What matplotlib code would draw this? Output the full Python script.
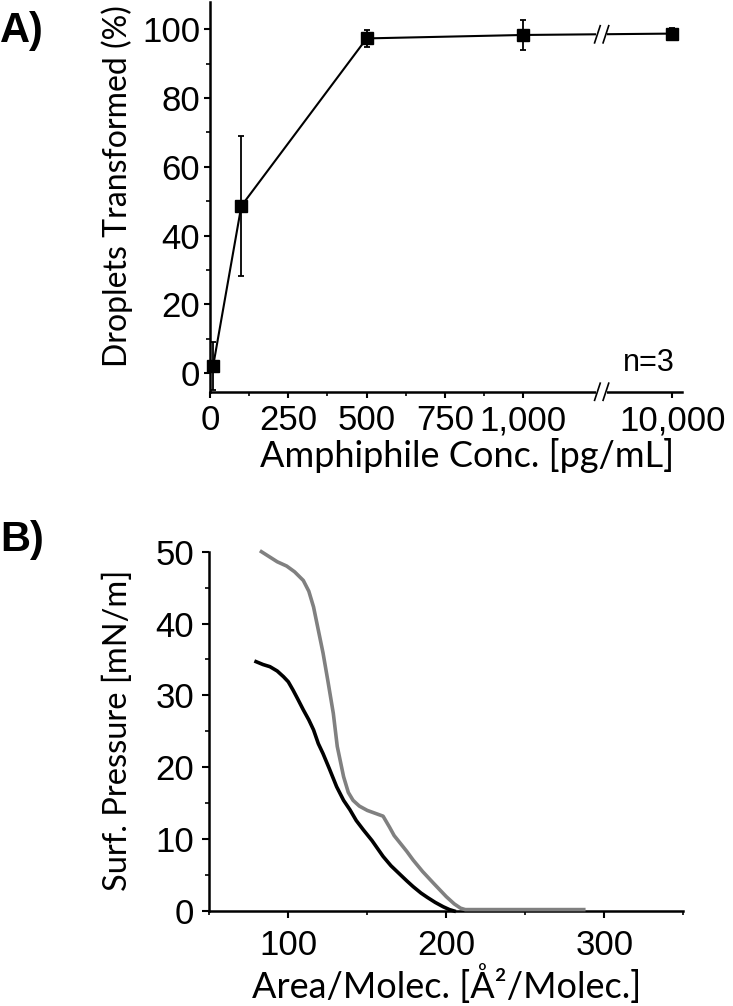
import numpy as np
import matplotlib
matplotlib.use("Agg")
import matplotlib.pyplot as plt
from matplotlib import transforms
from matplotlib.ticker import FixedLocator, MultipleLocator

# panel A: droplet transformation vs amphiphile concentration
conc = [10, 100, 500, 1000, 10000]
transformed = [2.0, 48.6, 97.4, 98.4, 98.8]
transformed_err = [7.0, 20.5, 2.4, 4.5, 1.5]
conc_ticks = [0, 250, 500, 750, 1000, 10000]
conc_ticklabels = ["0", "250", "500", "750", "1,000", "10,000"]

# panel B: isotherms
area_gray = [83, 88, 93, 99, 104, 109.5, 113, 116, 119, 122, 125, 128.5, 131, 135, 138,
             141, 145, 150, 155, 160, 164, 167, 171, 175, 179, 185, 192, 200, 205, 209,
             212, 287]
press_gray = [50.0, 49.3, 48.6, 48.0, 47.2, 46.0, 44.5, 42.3, 39.1, 35.9, 32.1, 27.5, 22.9,
              18.7, 16.5, 15.4, 14.6, 14.0, 13.6, 13.2, 11.7, 10.5, 9.4, 8.3, 7.1, 5.5,
              3.85, 2.0, 1.0, 0.4, 0.2, 0.2]
area_black = [79.6, 84, 88.4, 93, 97, 100, 103, 106, 109.5, 113, 116, 119, 122, 126, 130.6,
              135, 139, 143, 147.5, 153, 160, 165, 170.7, 175, 179, 184, 188, 193, 198,
              202, 205]
press_black = [34.7, 34.3, 34.0, 33.4, 32.6, 31.9, 30.75, 29.5, 28.0, 26.6, 25.2, 23.3,
               21.9, 19.8, 17.3, 15.4, 14.1, 12.6, 11.3, 9.8, 7.6, 6.3, 5.1, 4.2, 3.4,
               2.5, 1.9, 1.2, 0.6, 0.2, 0.0]

num_font = "Liberation Sans"
lab_font = "Lato"
BRK = 1250.0
SQ = 225.0 / 8750.0


def fwd(x):
    x = np.asarray(x, dtype=float)
    return np.where(x <= BRK, x, BRK + (x - BRK) * SQ)


def inv(y):
    y = np.asarray(y, dtype=float)
    return np.where(y <= BRK, y, BRK + (y - BRK) / SQ)


fig = plt.figure(figsize=(7.33, 10.06), dpi=100)
axA = fig.add_axes([0.2865, 0.6106, 0.644, 0.3874])
axB = fig.add_axes([0.2855, 0.0944, 0.6467, 0.3572])

for ax in (axA, axB):
    for s in ("top", "right"):
        ax.spines[s].set_visible(False)
    for s in ("left", "bottom"):
        ax.spines[s].set_linewidth(1.8)
    ax.tick_params(which="major", direction="out", length=4, width=1.5, labelsize=25, pad=3)
    ax.tick_params(which="minor", direction="out", length=3, width=1.2)

# ---- A ----
axA.set_xscale("function", functions=(fwd, inv))
axA.errorbar(conc, transformed, yerr=transformed_err, color="black", lw=1.5,
             marker="s", ms=8, capsize=2, elinewidth=1.3, capthick=1.3, clip_on=False, zorder=3)
axA.set_xlim(0, 11230)
axA.set_ylim(-5.5, 108)
axA.xaxis.set_major_locator(FixedLocator(conc_ticks))
axA.set_xticklabels(conc_ticklabels)
axA.xaxis.set_minor_locator(FixedLocator([125, 375, 625, 875]))
axA.yaxis.set_major_locator(FixedLocator([0, 20, 40, 60, 80, 100]))
axA.yaxis.set_minor_locator(FixedLocator([10, 30, 50, 70, 90]))
axA.tick_params(axis="x", which="major", pad=5)
for lbl in axA.get_xticklabels() + axA.get_yticklabels():
    lbl.set_fontfamily(num_font)
axA.set_xlabel("Amphiphile Conc. [pg/mL]", fontsize=26, family=lab_font, va="baseline")
axA.xaxis.set_label_coords(0.5455, -0.193)
axA.set_ylabel("Droplets Transformed (%)", fontsize=23, family=lab_font, va="center")
axA.yaxis.set_label_coords(-0.197, 0.528)
axA.text(0.985, 0.053, "n=3", transform=axA.transAxes, ha="right", va="baseline",
         fontsize=22, family=num_font)

# axis breaks
bx = fwd(BRK) / fwd(11230)
gap = 0.011
for trans, yc, dy in [(axA.transAxes, 0.0, 0.022),
                      (transforms.blended_transform_factory(axA.transAxes, axA.transData), 98.6, 2.5)]:
    axA.plot([bx - gap, bx + gap], [yc, yc], color="white", lw=4, transform=trans,
             clip_on=False, zorder=4, solid_capstyle="butt")
    for off in (-gap + 0.002, gap - 0.002):
        axA.plot([bx + off - 0.006, bx + off + 0.006], [yc - dy, yc + dy], color="black",
                 lw=1.2, transform=trans, clip_on=False, zorder=5)

# ---- B ----
axB.plot(area_gray, press_gray, color="#808080", lw=2.6, zorder=3, clip_on=False)
axB.plot(area_black, press_black, color="black", lw=2.6, zorder=3, clip_on=False)
axB.set_xlim(50, 350)
axB.set_ylim(0, 50)
axB.xaxis.set_major_locator(FixedLocator([100, 200, 300]))
axB.xaxis.set_minor_locator(FixedLocator([50, 150, 250, 350]))
axB.yaxis.set_major_locator(MultipleLocator(10))
axB.yaxis.set_minor_locator(MultipleLocator(5))
axB.tick_params(which="major", length=5)
axB.tick_params(axis="x", which="major", pad=8)
axB.tick_params(axis="y", which="major", pad=6)
for lbl in axB.get_xticklabels() + axB.get_yticklabels():
    lbl.set_fontfamily(num_font)
axB.set_xlabel("Area/Molec. [Å²/Molec.]", fontsize=26, family=lab_font, va="baseline")
axB.xaxis.set_label_coords(0.5, -0.242)
axB.set_ylabel("Surf. Pressure [mN/m]", fontsize=23.5, family=lab_font, va="center")
axB.yaxis.set_label_coords(-0.193, 0.504)

fig.text(0.0, 1 - 31 / 1006, "A)", fontsize=30, fontweight="bold", family=num_font,
         ha="left", va="center")
fig.text(0.0, 1 - 540 / 1006, "B)", fontsize=30, fontweight="bold", family=num_font,
         ha="left", va="center")

fig.savefig("out.png", dpi=100)
